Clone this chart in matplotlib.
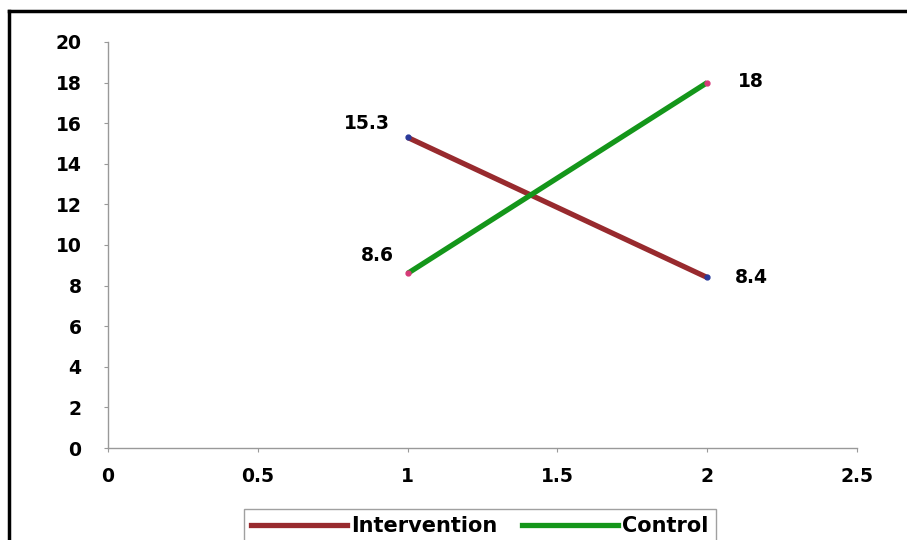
import numpy as np
import matplotlib
matplotlib.use("Agg")
import matplotlib.pyplot as plt
from matplotlib.lines import Line2D

x = [1, 2]
intervention = [15.3, 8.4]
control = [8.6, 18]
series_names = ["Intervention", "Control"]
xticks = [0, 0.5, 1, 1.5, 2, 2.5]
yticks = [0, 2, 4, 6, 8, 10, 12, 14, 16, 18, 20]

plt.rcParams['font.family'] = ['DejaVu Sans']
plt.rcParams['font.weight'] = 'bold'

fig = plt.figure(figsize=(9.07, 5.4), dpi=100)
ax = fig.add_axes([108/907, 1 - 448/540, (857 - 108)/907, (448 - 42)/540])

ax.plot(x, intervention, color='#982a2e', lw=3.8, solid_capstyle='butt', zorder=3)
ax.plot(x, control, color='#14961a', lw=3.8, solid_capstyle='butt', zorder=3)
ax.plot(x, intervention, 'o', color='#2a3a9a', ms=3.5, zorder=4)
ax.plot(x, control, 'o', color='#d63a78', ms=3.5, zorder=4)

# value labels
fs = 13.5
ax.annotate(f"{intervention[0]:g}", (x[0], intervention[0]), xytext=(-13, 10),
            textcoords='offset points', ha='right', va='center', fontsize=fs, fontweight='bold')
ax.annotate(f"{intervention[1]:g}", (x[1], intervention[1]), xytext=(20, 0),
            textcoords='offset points', ha='left', va='center', fontsize=fs, fontweight='bold')
ax.annotate(f"{control[0]:g}", (x[0], control[0]), xytext=(-10, 13),
            textcoords='offset points', ha='right', va='center', fontsize=fs, fontweight='bold')
ax.annotate(f"{control[1]:g}", (x[1], control[1]), xytext=(22, 1),
            textcoords='offset points', ha='left', va='center', fontsize=fs, fontweight='bold')

ax.set_xlim(0, 2.5)
ax.set_ylim(0, 20)
ax.set_xticks(xticks)
ax.set_xticklabels([f"{t:g}" for t in xticks])
ax.set_yticks(yticks)
ax.tick_params(axis='both', colors='#999999', labelcolor='black', labelsize=fs,
               length=3, width=0.8)
ax.tick_params(axis='y', pad=16)
ax.tick_params(axis='x', pad=11)
for lab in ax.get_xticklabels() + ax.get_yticklabels():
    lab.set_fontweight('bold')
for s in ['top', 'right']:
    ax.spines[s].set_visible(False)
for s in ['left', 'bottom']:
    ax.spines[s].set_color('#999999')
    ax.spines[s].set_linewidth(1.0)

handles = [Line2D([], [], color='#982a2e', lw=3.8),
           Line2D([], [], color='#14961a', lw=3.8)]
leg = fig.legend(handles, series_names, loc='upper center',
                 bbox_to_anchor=(480/907, 1 - 509/540), bbox_transform=fig.transFigure,
                 ncol=2, fontsize=15, frameon=True, fancybox=False,
                 handlelength=4.6, handletextpad=0.2, columnspacing=1.2,
                 borderpad=0.35, borderaxespad=0)
leg.get_frame().set_edgecolor('#888888')
leg.get_frame().set_linewidth(1.0)
for t in leg.get_texts():
    t.set_fontweight('bold')

# outer frame (left and top edges visible)
fig.add_artist(Line2D([9/907, 9/907], [0, 1 - 11/540], color='black', lw=2.5,
                      transform=fig.transFigure))
fig.add_artist(Line2D([9/907, 1], [1 - 11/540, 1 - 11/540], color='black', lw=2.5,
                      transform=fig.transFigure))

fig.savefig("out.png", dpi=100)
